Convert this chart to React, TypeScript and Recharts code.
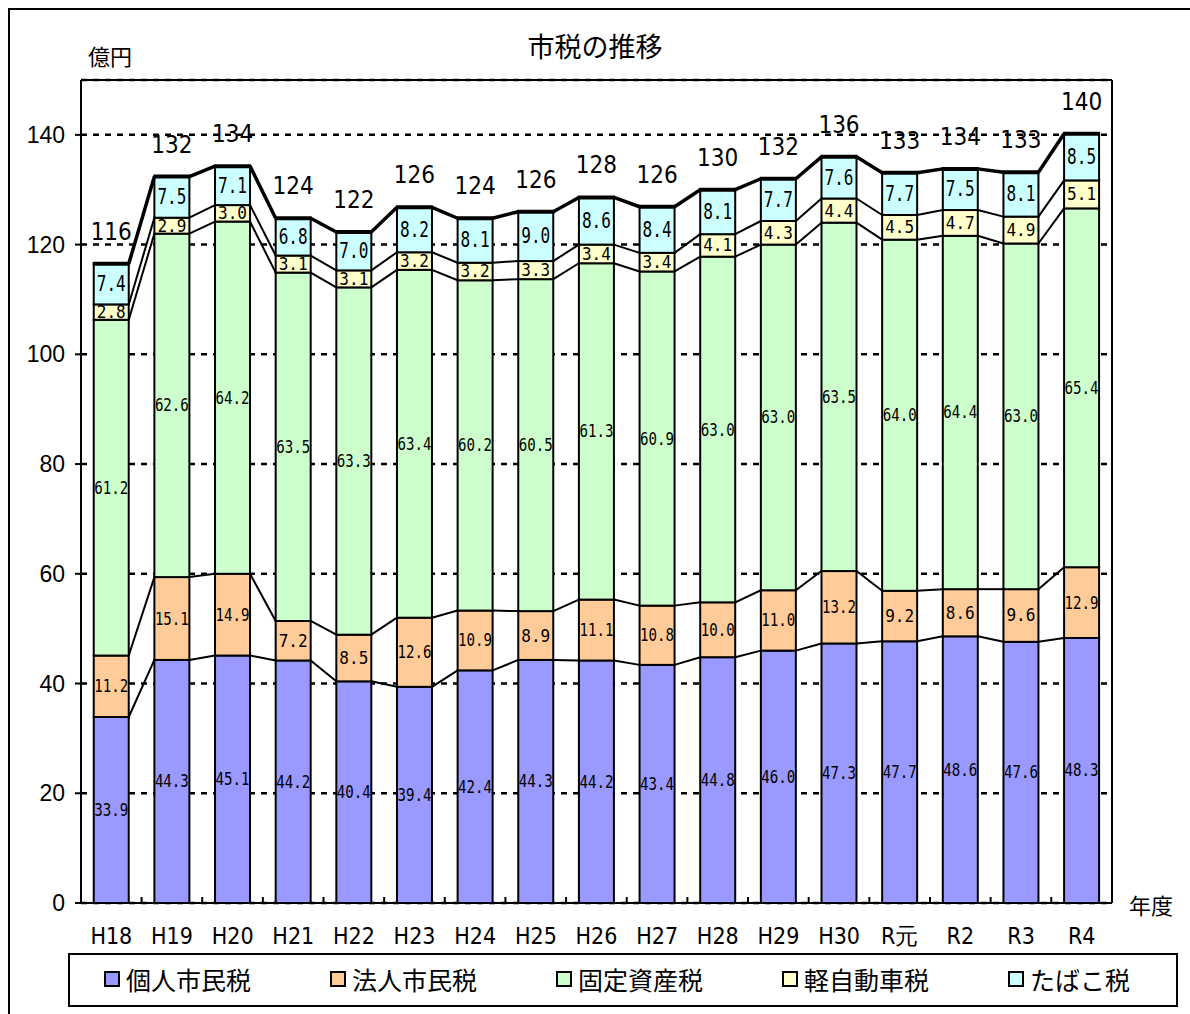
import React from 'react';
import { BarChart, Bar, XAxis, YAxis, CartesianGrid, LabelList } from 'recharts';

const years = ['H18', 'H19', 'H20', 'H21', 'H22', 'H23', 'H24', 'H25', 'H26', 'H27', 'H28', 'H29', 'H30', 'R元', 'R2', 'R3', 'R4'];
const kojin = [33.9, 44.3, 45.1, 44.2, 40.4, 39.4, 42.4, 44.3, 44.2, 43.4, 44.8, 46.0, 47.3, 47.7, 48.6, 47.6, 48.3];
const hojin = [11.2, 15.1, 14.9, 7.2, 8.5, 12.6, 10.9, 8.9, 11.1, 10.8, 10.0, 11.0, 13.2, 9.2, 8.6, 9.6, 12.9];
const kotei = [61.2, 62.6, 64.2, 63.5, 63.3, 63.4, 60.2, 60.5, 61.3, 60.9, 63.0, 63.0, 63.5, 64.0, 64.4, 63.0, 65.4];
const kei = [2.8, 2.9, 3.0, 3.1, 3.1, 3.2, 3.2, 3.3, 3.4, 3.4, 4.1, 4.3, 4.4, 4.5, 4.7, 4.9, 5.1];
const tabako = [7.4, 7.5, 7.1, 6.8, 7.0, 8.2, 8.1, 9.0, 8.6, 8.4, 8.1, 7.7, 7.6, 7.7, 7.5, 8.1, 8.5];
const totals = [116, 132, 134, 124, 122, 126, 124, 126, 128, 126, 130, 132, 136, 133, 134, 133, 140];
const yTicks = [0, 20, 40, 60, 80, 100, 120, 140];

const series = [
  { key: 'kojin', name: '個人市民税', color: '#9999FF' },
  { key: 'hojin', name: '法人市民税', color: '#FFCC99' },
  { key: 'kotei', name: '固定資産税', color: '#CCFFCC' },
  { key: 'kei', name: '軽自動車税', color: '#FFFFCC' },
  { key: 'tabako', name: 'たばこ税', color: '#CCFFFF' },
];

const data = years.map((year, i) => ({
  year,
  kojin: kojin[i],
  hojin: hojin[i],
  kotei: kotei[i],
  kei: kei[i],
  tabako: tabako[i],
  total: totals[i],
}));

const CJK = '"Noto Sans CJK JP", sans-serif';
const NUM = '"Liberation Sans", Arial, sans-serif';
const NARROW = '"Liberation Sans Narrow", "DejaVu Sans Condensed", sans-serif';

// bar rects of the current render, so each bar can draw the series line back to the previous one
const rects: Record<string, { x: number; y: number; width: number; height: number }[]> = {};

const makeShape = (key: string, pos: number) => (props: any) => {
  const { x, y, width, height, index, fill } = props;
  const arr = (rects[key] = rects[key] || []);
  arr[index] = { x, y, width, height };
  const prev = index > 0 ? arr[index - 1] : null;
  const isTop = pos === series.length - 1;
  return (
    <g>
      <rect x={x} y={y} width={width} height={height} fill={fill} stroke="#000" strokeWidth={2} />
      {prev && (
        <line x1={prev.x + prev.width} y1={prev.y} x2={x} y2={y} stroke="#000" strokeWidth={isTop ? 3.5 : 2} />
      )}
      {isTop && <line x1={x - 1} x2={x + width + 1} y1={y} y2={y} stroke="#000" strokeWidth={4} />}
      {pos === 0 && prev && (
        <line
          x1={(prev.x + prev.width + x) / 2}
          x2={(prev.x + prev.width + x) / 2}
          y1={y + height}
          y2={y + height - 6}
          stroke="#000"
          strokeWidth={2}
        />
      )}
    </g>
  );
};

const inLabel = (big: boolean) => (props: any) => {
  const { x, y, width, height, value } = props;
  const s = Number(value).toFixed(1);
  return (
    <text
      x={x + width / 2}
      y={y + height / 2}
      textAnchor="middle"
      dominantBaseline="central"
      fontFamily='"DejaVu Sans Mono", monospace'
      fontSize={big ? 21 : 17}
      textLength={s.length === 4 ? 34 : 29}
      lengthAdjust="spacingAndGlyphs"
      fill="#000"
    >
      {s}
    </text>
  );
};

const totalLabel = (props: any) => {
  const { x, y, width, value } = props;
  return (
    <text x={x + width / 2} y={y - 24} textAnchor="middle" fontFamily={NARROW} fontSize={24} fill="#000">
      {value}
    </text>
  );
};

const App = () => {
  return (
    <div
      style={{
        position: 'absolute',
        left: 0,
        top: 0,
        width: 1190,
        height: 1014,
        overflow: 'hidden',
        background: '#fff',
      }}
    >
      <div
        style={{
          position: 'absolute',
          left: 8,
          top: 8,
          width: 1220,
          height: 1040,
          border: '2px solid #000',
        }}
      />
      <div
        style={{
          position: 'absolute',
          left: 0,
          width: 1190,
          top: 28,
          textAlign: 'center',
          fontFamily: CJK,
          fontSize: 27,
          lineHeight: '36px',
        }}
      >
        市税の推移
      </div>
      <div style={{ position: 'absolute', left: 88, top: 40, fontFamily: CJK, fontSize: 22, lineHeight: '30px' }}>
        億円
      </div>
      <div style={{ position: 'absolute', left: 1129, top: 889, fontFamily: CJK, fontSize: 22, lineHeight: '30px' }}>
        年度
      </div>
      <div style={{ position: 'absolute', left: 0, top: 0 }}>
        <BarChart
          width={1190}
          height={1014}
          data={data}
          margin={{ top: 79, right: 77, bottom: 61, left: 0 }}
          barCategoryGap="21%"
        >
          <CartesianGrid
            vertical={false}
            stroke="#000"
            strokeWidth={2.5}
            strokeDasharray="6 6"
            strokeOpacity={1}
          />
          <XAxis
            dataKey="year"
            height={50}
            interval={0}
            tickLine={false}
            tickMargin={19}
            axisLine={{ stroke: '#000', strokeWidth: 2 }}
            tick={{ fill: '#000', fontSize: 23, fontFamily: NARROW }}
          />
          <XAxis
            xAxisId="top"
            orientation="top"
            dataKey="year"
            height={1}
            tick={false}
            tickLine={false}
            axisLine={{ stroke: '#000', strokeWidth: 2 }}
          />
          <YAxis
            domain={[0, 150]}
            ticks={yTicks}
            interval={0}
            width={81}
            tickSize={6}
            tickMargin={10}
            tickLine={{ stroke: '#000', strokeWidth: 2 }}
            axisLine={{ stroke: '#000', strokeWidth: 2 }}
            tick={{ fill: '#000', fontSize: 23, fontFamily: NUM }}
          />
          <YAxis
            yAxisId="right"
            orientation="right"
            domain={[0, 150]}
            width={1}
            tick={false}
            tickLine={false}
            axisLine={{ stroke: '#000', strokeWidth: 2 }}
          />
          {series.map((s, i) => (
            <Bar
              key={s.key}
              dataKey={s.key}
              name={s.name}
              stackId="tax"
              fill={s.color}
              isAnimationActive={false}
              shape={makeShape(s.key, i)}
            >
              <LabelList dataKey={s.key} content={inLabel(i === series.length - 1)} />
              {i === series.length - 1 && <LabelList dataKey="total" content={totalLabel} />}
            </Bar>
          ))}
        </BarChart>
      </div>
      <div
        style={{
          position: 'absolute',
          left: 68,
          top: 953,
          width: 1106,
          height: 50,
          border: '2px solid #000',
          fontFamily: CJK,
          fontSize: 25,
        }}
      >
        {series.map((s, i) => (
          <div
            key={s.key}
            style={{ position: 'absolute', left: 34 + i * 226, top: 6, display: 'flex', alignItems: 'center' }}
          >
            <span
              style={{
                display: 'inline-block',
                width: 12,
                height: 12,
                background: s.color,
                border: '2px solid #000',
                marginRight: 6,
              }}
            />
            <span style={{ lineHeight: '36px' }}>{s.name}</span>
          </div>
        ))}
      </div>
    </div>
  );
};

export default App;
